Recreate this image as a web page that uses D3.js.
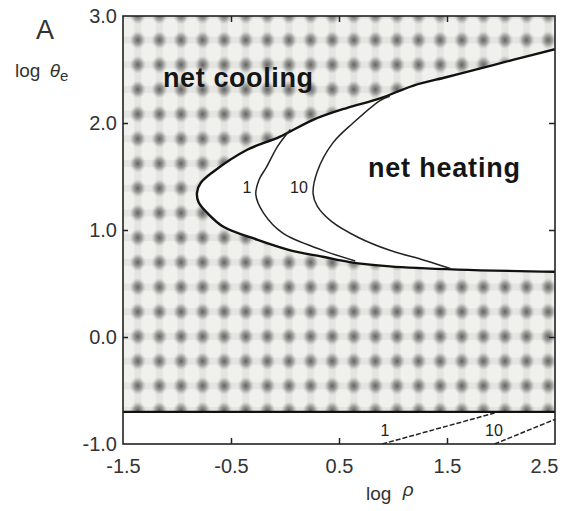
<!DOCTYPE html>
<html><head><meta charset="utf-8">
<script src="https://cdn.jsdelivr.net/npm/d3@7"></script>
<style>
html,body{margin:0;padding:0;background:#fff;}
text{font-family:"Liberation Sans",Arial,sans-serif;}
</style></head>
<body><svg id="c" width="570" height="511"></svg>
<script>
// ---- data ----
const xTickValues = [-1.5, -0.5, 0.5, 1.5, 2.5];
const yTickValues = [-1.0, 0.0, 1.0, 2.0, 3.0];
const xInnerTicks = [-0.5, 0.5, 1.5];
const yInnerTicks = [0.0, 1.0, 2.0];
const bandLogT = -0.7;            // lower limit of the shaded region
// heating / cooling boundary
const outerLogP = [2.5, 1.6, 0.97, 0.6, 0.35, 0.05, -0.26, -0.57, -0.72, -0.80, -0.815, -0.78, -0.67, -0.35, -0.05, 0.26, 0.57, 0.88, 1.19, 1.5, 1.81, 2.11, 2.5];
const outerLogT = [0.61, 0.63, 0.66, 0.70, 0.75, 0.81, 0.91, 1.03, 1.16, 1.26, 1.35, 1.44, 1.54, 1.75, 1.87, 2.03, 2.14, 2.23, 2.35, 2.43, 2.51, 2.59, 2.69];
// contour "1"
const c1LogP = [0.65, 0.35, -0.02, -0.20, -0.27, -0.24, -0.17, -0.07, 0.05];
const c1LogT = [0.71, 0.81, 0.97, 1.16, 1.33, 1.47, 1.59, 1.78, 1.94];
// contour "10"
const c10LogP = [1.53, 1.28, 0.97, 0.68, 0.43, 0.30, 0.26, 0.30, 0.44, 0.63, 0.88, 0.97];
const c10LogT = [0.64, 0.72, 0.81, 0.93, 1.08, 1.22, 1.34, 1.55, 1.81, 2.00, 2.21, 2.25];
// low-temperature contours (dashed)
const l1LogP = [0.90, 1.94];
const l1LogT = [-1.0, -0.71];
const l10LogP = [1.94, 2.5];
const l10LogT = [-1.0, -0.77];

// ---- chart ----
const svg = d3.select("#c");
const x = d3.scaleLinear().domain([-1.5, 2.5]).range([123, 555]);
const y = d3.scaleLinear().domain([-1.0, 3.0]).range([444, 16]);
const zip = (a, b) => a.map((v, i) => [v, b[i]]);
const line = d3.line().x(d => x(d[0])).y(d => y(d[1])).curve(d3.curveCatmullRom.alpha(0.5));

const defs = svg.append("defs");
const rg = defs.append("radialGradient").attr("id", "blob");
rg.append("stop").attr("offset", "0").attr("stop-color", "#4a4a4a").attr("stop-opacity", 0.85);
rg.append("stop").attr("offset", "0.5").attr("stop-color", "#707070").attr("stop-opacity", 0.6);
rg.append("stop").attr("offset", "1").attr("stop-color", "#a0a0a0").attr("stop-opacity", 0);
const pw = 21.6, ph = 24.7;
const pat = defs.append("pattern").attr("id", "pat").attr("patternUnits", "userSpaceOnUse")
  .attr("width", pw).attr("height", ph).attr("x", 127).attr("y", 3);
pat.append("rect").attr("width", pw).attr("height", ph).attr("fill", "#f0f0ec");
pat.append("rect").attr("x", pw/2 - 3.5).attr("width", 7).attr("height", ph).attr("fill", "#dcdcd8").attr("opacity", 0.6);
pat.append("rect").attr("y", ph/2 - 3.5).attr("height", 7).attr("width", pw).attr("fill", "#dcdcd8").attr("opacity", 0.6);
pat.append("ellipse").attr("cx", pw/2).attr("cy", ph/2).attr("rx", 8).attr("ry", 9).attr("fill", "url(#blob)");

defs.append("clipPath").attr("id", "clip").append("rect")
  .attr("x", x(-1.5)).attr("y", y(3.0)).attr("width", x(2.5) - x(-1.5)).attr("height", y(-1.0) - y(3.0));

const g = svg.append("g").attr("clip-path", "url(#clip)");
g.append("rect").attr("x", x(-1.5)).attr("y", y(3.0)).attr("width", x(2.5) - x(-1.5))
  .attr("height", y(bandLogT) - y(3.0)).attr("fill", "url(#pat)");

const outer = zip(outerLogP, outerLogT);
g.append("path").attr("d", line(outer) + "Z").attr("fill", "#fff").attr("stroke", "none");
g.append("path").attr("d", line(outer)).attr("fill", "none").attr("stroke", "#111").attr("stroke-width", 2.4);
g.append("path").attr("d", line(zip(c1LogP, c1LogT))).attr("fill", "none").attr("stroke", "#222").attr("stroke-width", 1.5);
g.append("path").attr("d", line(zip(c10LogP, c10LogT))).attr("fill", "none").attr("stroke", "#222").attr("stroke-width", 1.5);

const straight = d3.line().x(d => x(d[0])).y(d => y(d[1]));
g.append("path").attr("d", straight(zip(l1LogP, l1LogT))).attr("fill", "none").attr("stroke", "#222").attr("stroke-width", 1.5).attr("stroke-dasharray", "5,2");
g.append("path").attr("d", straight(zip(l10LogP, l10LogT))).attr("fill", "none").attr("stroke", "#222").attr("stroke-width", 1.5).attr("stroke-dasharray", "5,2");

// band boundary
g.append("line").attr("x1", x(-1.5)).attr("x2", x(2.5)).attr("y1", y(bandLogT)).attr("y2", y(bandLogT))
  .attr("stroke", "#111").attr("stroke-width", 2.2);

// frame
svg.append("rect").attr("x", x(-1.5)).attr("y", y(3.0)).attr("width", x(2.5) - x(-1.5))
  .attr("height", y(-1.0) - y(3.0)).attr("fill", "none").attr("stroke", "#222").attr("stroke-width", 1.6);

// axes
const fmt = d => d.toFixed(1);
const styleAxis = sel => {
  sel.select(".domain").remove();
  sel.selectAll(".tick line").attr("stroke", "#222").attr("stroke-width", 1.5);
  sel.selectAll(".tick text").attr("font-size", 20).attr("fill", "#333").attr("font-family", "Liberation Sans, Arial, sans-serif");
};
const xb = svg.append("g").attr("transform", `translate(0,${y(-1.0)})`)
  .call(d3.axisBottom(x).tickValues(xTickValues).tickFormat(fmt).tickSize(-6).tickPadding(15));
styleAxis(xb);
xb.selectAll(".tick").filter(d => !xInnerTicks.includes(d)).select("line").remove();
xb.selectAll(".tick text").filter(d => d === 2.5).attr("dx", "-0.55em");

const xt = svg.append("g").attr("transform", `translate(0,${y(3.0)})`)
  .call(d3.axisTop(x).tickValues(xInnerTicks).tickFormat("").tickSize(-6));
styleAxis(xt);

const yl = svg.append("g").attr("transform", `translate(${x(-1.5)},0)`)
  .call(d3.axisLeft(y).tickValues(yTickValues).tickFormat(fmt).tickSize(-5).tickPadding(6));
styleAxis(yl);
yl.selectAll(".tick").filter(d => !yInnerTicks.includes(d)).select("line").remove();

const yr = svg.append("g").attr("transform", `translate(${x(2.5)},0)`)
  .call(d3.axisRight(y).tickValues(yInnerTicks).tickFormat("").tickSize(-6));
styleAxis(yr);

// texts
svg.append("text").attr("x", 36).attr("y", 39).attr("font-size", 27).attr("fill", "#333").text("A");
const yt = svg.append("text").attr("x", 15).attr("y", 77).attr("font-size", 19).attr("fill", "#333");
yt.append("tspan").text("log ");
yt.append("tspan").attr("dx", 4).attr("font-style", "italic").text("θ");
yt.append("tspan").attr("font-size", 15).attr("dy", 4).text("e");

const xtit = svg.append("text").attr("x", 366).attr("y", 500).attr("font-size", 19).attr("fill", "#333");
xtit.append("tspan").text("log ");
xtit.append("tspan").attr("dx", 6).attr("dy", -4).attr("font-style", "italic").text("ρ");

svg.append("text").attr("x", 163).attr("y", 87).attr("font-size", 27).attr("font-weight", "bold")
  .attr("fill", "#151515").attr("textLength", 150).attr("lengthAdjust", "spacing").text("net cooling");
svg.append("text").attr("x", 368).attr("y", 177).attr("font-size", 27).attr("font-weight", "bold")
  .attr("fill", "#151515").attr("textLength", 152).attr("lengthAdjust", "spacing").text("net heating");

const lab = (t, xx, yy) => svg.append("text").attr("x", xx).attr("y", yy).attr("font-size", 16)
  .attr("fill", "#222").attr("text-anchor", "middle").text(t);
lab("1", 247, 193);
lab("10", 299, 193);
lab("1", 385, 436);
lab("10", 494, 436);
</script></body></html>
